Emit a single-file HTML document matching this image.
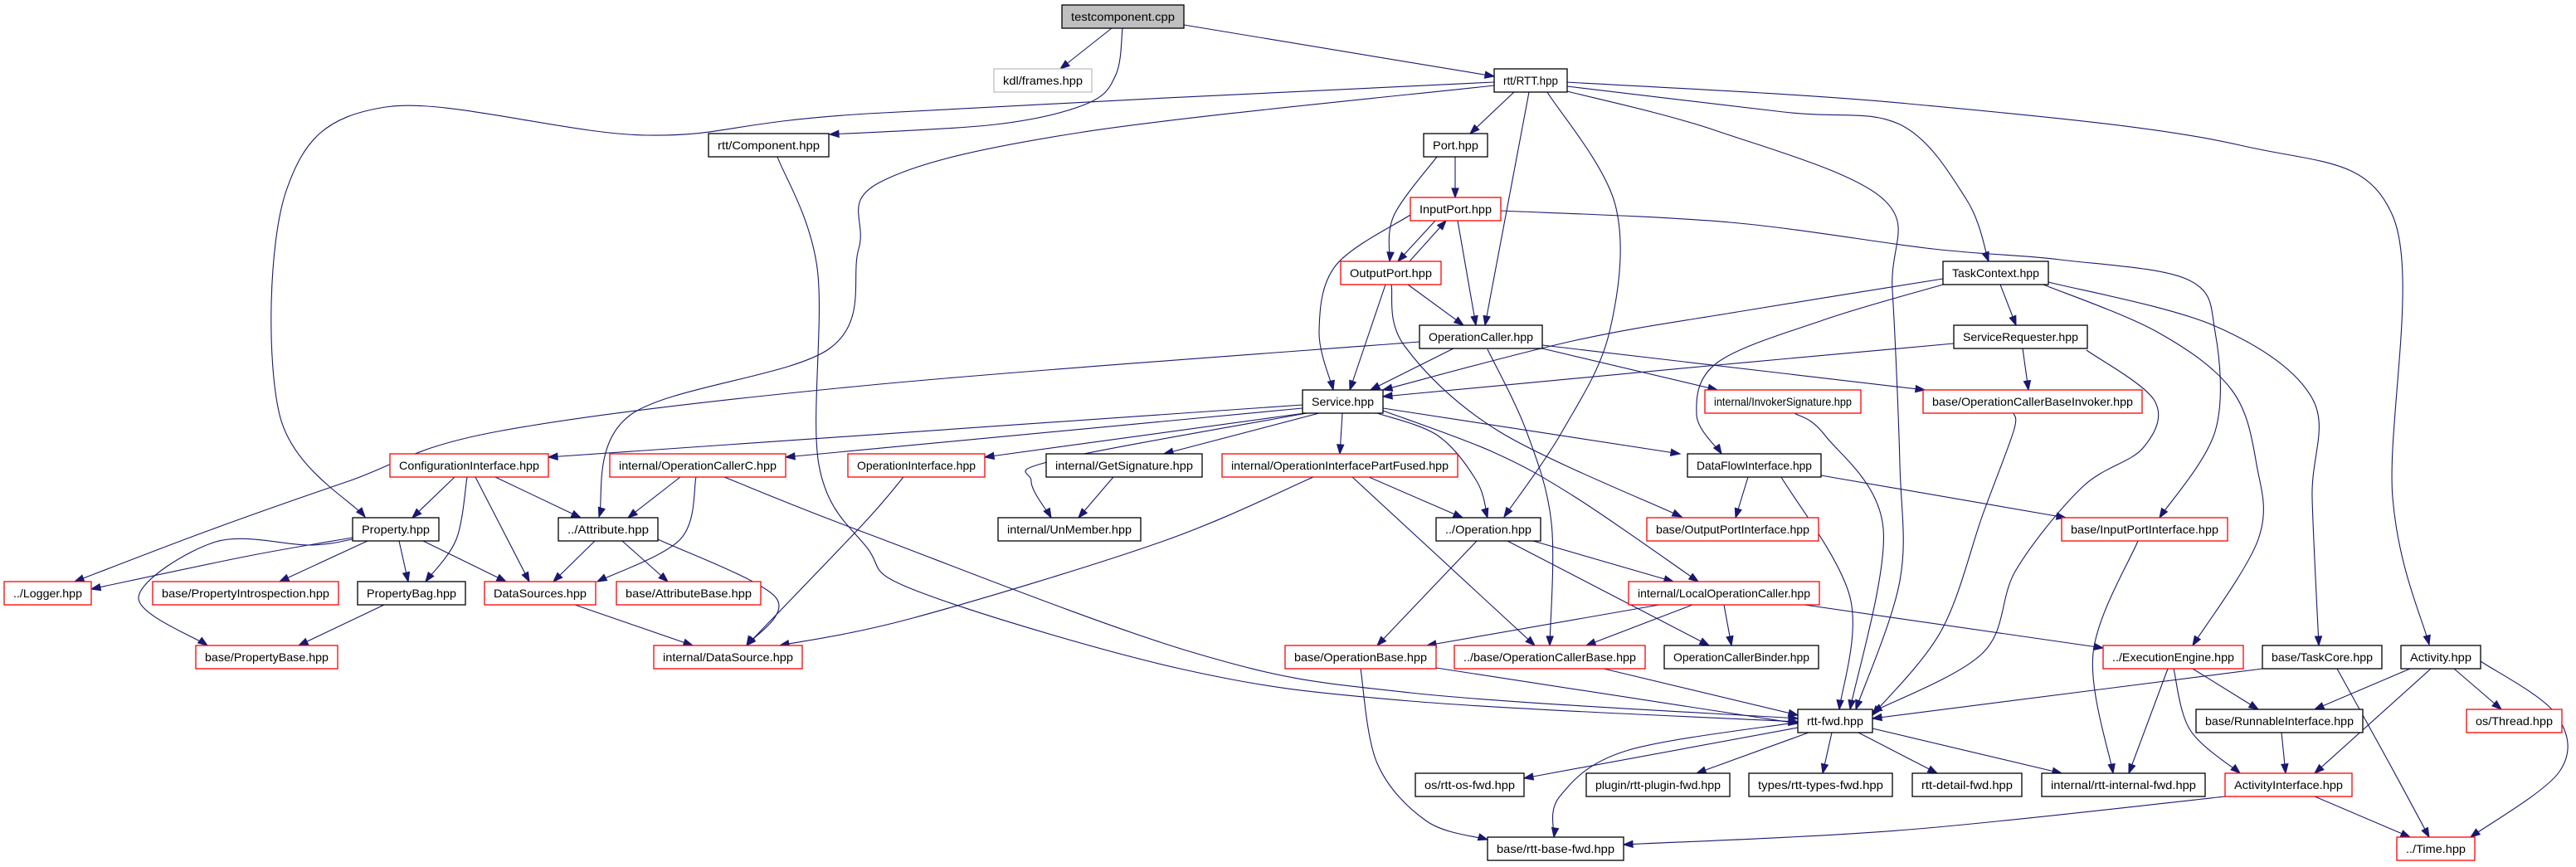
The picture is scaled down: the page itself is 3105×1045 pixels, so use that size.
<!DOCTYPE html>
<html><head><meta charset="utf-8">
<style>
html,body{margin:0;padding:0;background:#fff;}
svg{display:block;}
text{font-family:"Liberation Sans",sans-serif;font-size:14px;fill:#000;}
</style></head>
<body>
<svg id="g" width="3105" height="1045" viewBox="0 0 3105 1045" xmlns="http://www.w3.org/2000/svg">
<g id="edges" fill="none" stroke="#191970" stroke-width="1.1"></g>
<g id="nodes" stroke-width="1.3">
<rect x="1280" y="6" width="147" height="28" fill="#bfbfbf" stroke="#000"/><text x="1353.5" y="25" text-anchor="middle" textLength="125" lengthAdjust="spacingAndGlyphs">testcomponent.cpp</text>
<rect x="1198" y="83" width="118" height="28" fill="#fff" stroke="#bfbfbf"/><text x="1257" y="102" text-anchor="middle" textLength="96" lengthAdjust="spacingAndGlyphs">kdl/frames.hpp</text>
<rect x="1801" y="83" width="88" height="28" fill="#fff" stroke="#000"/><text x="1845" y="102" text-anchor="middle" textLength="66" lengthAdjust="spacingAndGlyphs">rtt/RTT.hpp</text>
<rect x="854" y="161" width="145" height="28" fill="#fff" stroke="#000"/><text x="926.5" y="180" text-anchor="middle" textLength="123" lengthAdjust="spacingAndGlyphs">rtt/Component.hpp</text>
<rect x="1716" y="161" width="77" height="28" fill="#fff" stroke="#000"/><text x="1754.5" y="180" text-anchor="middle" textLength="55" lengthAdjust="spacingAndGlyphs">Port.hpp</text>
<rect x="1700" y="238" width="109" height="28" fill="#fff" stroke="#f00"/><text x="1754.5" y="257" text-anchor="middle" textLength="87" lengthAdjust="spacingAndGlyphs">InputPort.hpp</text>
<rect x="1616" y="315" width="121" height="28" fill="#fff" stroke="#f00"/><text x="1676.5" y="334" text-anchor="middle" textLength="99" lengthAdjust="spacingAndGlyphs">OutputPort.hpp</text>
<rect x="2342" y="315" width="127" height="28" fill="#fff" stroke="#000"/><text x="2405.5" y="334" text-anchor="middle" textLength="105" lengthAdjust="spacingAndGlyphs">TaskContext.hpp</text>
<rect x="1711" y="392" width="148" height="28" fill="#fff" stroke="#000"/><text x="1785" y="411" text-anchor="middle" textLength="126" lengthAdjust="spacingAndGlyphs">OperationCaller.hpp</text>
<rect x="2355" y="392" width="161" height="28" fill="#fff" stroke="#000"/><text x="2435.5" y="411" text-anchor="middle" textLength="139" lengthAdjust="spacingAndGlyphs">ServiceRequester.hpp</text>
<rect x="1570" y="470" width="97" height="28" fill="#fff" stroke="#000"/><text x="1618.5" y="489" text-anchor="middle" textLength="75" lengthAdjust="spacingAndGlyphs">Service.hpp</text>
<rect x="2055" y="470" width="188" height="28" fill="#fff" stroke="#f00"/><text x="2149" y="489" text-anchor="middle" textLength="166" lengthAdjust="spacingAndGlyphs">internal/InvokerSignature.hpp</text>
<rect x="2318" y="470" width="264" height="28" fill="#fff" stroke="#f00"/><text x="2450" y="489" text-anchor="middle" textLength="242" lengthAdjust="spacingAndGlyphs">base/OperationCallerBaseInvoker.hpp</text>
<rect x="470" y="547" width="191" height="28" fill="#fff" stroke="#f00"/><text x="565.5" y="566" text-anchor="middle" textLength="169" lengthAdjust="spacingAndGlyphs">ConfigurationInterface.hpp</text>
<rect x="735" y="547" width="212" height="28" fill="#fff" stroke="#f00"/><text x="841" y="566" text-anchor="middle" textLength="190" lengthAdjust="spacingAndGlyphs">internal/OperationCallerC.hpp</text>
<rect x="1022" y="547" width="165" height="28" fill="#fff" stroke="#f00"/><text x="1104.5" y="566" text-anchor="middle" textLength="143" lengthAdjust="spacingAndGlyphs">OperationInterface.hpp</text>
<rect x="1261" y="547" width="188" height="28" fill="#fff" stroke="#000"/><text x="1355" y="566" text-anchor="middle" textLength="166" lengthAdjust="spacingAndGlyphs">internal/GetSignature.hpp</text>
<rect x="1473" y="547" width="284" height="28" fill="#fff" stroke="#f00"/><text x="1615" y="566" text-anchor="middle" textLength="262" lengthAdjust="spacingAndGlyphs">internal/OperationInterfacePartFused.hpp</text>
<rect x="2034" y="547" width="161" height="28" fill="#fff" stroke="#000"/><text x="2114.5" y="566" text-anchor="middle" textLength="139" lengthAdjust="spacingAndGlyphs">DataFlowInterface.hpp</text>
<rect x="425" y="624" width="104" height="28" fill="#fff" stroke="#000"/><text x="477" y="643" text-anchor="middle" textLength="82" lengthAdjust="spacingAndGlyphs">Property.hpp</text>
<rect x="673" y="624" width="120" height="28" fill="#fff" stroke="#000"/><text x="733" y="643" text-anchor="middle" textLength="98" lengthAdjust="spacingAndGlyphs">../Attribute.hpp</text>
<rect x="1203" y="624" width="172" height="28" fill="#fff" stroke="#000"/><text x="1289" y="643" text-anchor="middle" textLength="150" lengthAdjust="spacingAndGlyphs">internal/UnMember.hpp</text>
<rect x="1731" y="624" width="126" height="28" fill="#fff" stroke="#000"/><text x="1794" y="643" text-anchor="middle" textLength="104" lengthAdjust="spacingAndGlyphs">../Operation.hpp</text>
<rect x="1985" y="624" width="207" height="28" fill="#fff" stroke="#f00"/><text x="2088.5" y="643" text-anchor="middle" textLength="185" lengthAdjust="spacingAndGlyphs">base/OutputPortInterface.hpp</text>
<rect x="2485" y="624" width="200" height="28" fill="#fff" stroke="#f00"/><text x="2585" y="643" text-anchor="middle" textLength="178" lengthAdjust="spacingAndGlyphs">base/InputPortInterface.hpp</text>
<rect x="5" y="701" width="105" height="28" fill="#fff" stroke="#f00"/><text x="57.5" y="720" text-anchor="middle" textLength="83" lengthAdjust="spacingAndGlyphs">../Logger.hpp</text>
<rect x="184" y="701" width="224" height="28" fill="#fff" stroke="#f00"/><text x="296" y="720" text-anchor="middle" textLength="202" lengthAdjust="spacingAndGlyphs">base/PropertyIntrospection.hpp</text>
<rect x="431" y="701" width="130" height="28" fill="#fff" stroke="#000"/><text x="496" y="720" text-anchor="middle" textLength="108" lengthAdjust="spacingAndGlyphs">PropertyBag.hpp</text>
<rect x="584" y="701" width="134" height="28" fill="#fff" stroke="#f00"/><text x="651" y="720" text-anchor="middle" textLength="112" lengthAdjust="spacingAndGlyphs">DataSources.hpp</text>
<rect x="743" y="701" width="174" height="28" fill="#fff" stroke="#f00"/><text x="830" y="720" text-anchor="middle" textLength="152" lengthAdjust="spacingAndGlyphs">base/AttributeBase.hpp</text>
<rect x="1963" y="701" width="230" height="28" fill="#fff" stroke="#f00"/><text x="2078" y="720" text-anchor="middle" textLength="208" lengthAdjust="spacingAndGlyphs">internal/LocalOperationCaller.hpp</text>
<rect x="236" y="778" width="171" height="28" fill="#fff" stroke="#f00"/><text x="321.5" y="797" text-anchor="middle" textLength="149" lengthAdjust="spacingAndGlyphs">base/PropertyBase.hpp</text>
<rect x="788" y="778" width="179" height="28" fill="#fff" stroke="#f00"/><text x="877.5" y="797" text-anchor="middle" textLength="157" lengthAdjust="spacingAndGlyphs">internal/DataSource.hpp</text>
<rect x="1549" y="778" width="182" height="28" fill="#fff" stroke="#f00"/><text x="1640" y="797" text-anchor="middle" textLength="160" lengthAdjust="spacingAndGlyphs">base/OperationBase.hpp</text>
<rect x="1753" y="778" width="230" height="28" fill="#fff" stroke="#f00"/><text x="1868" y="797" text-anchor="middle" textLength="208" lengthAdjust="spacingAndGlyphs">../base/OperationCallerBase.hpp</text>
<rect x="2006" y="778" width="186" height="28" fill="#fff" stroke="#000"/><text x="2099" y="797" text-anchor="middle" textLength="164" lengthAdjust="spacingAndGlyphs">OperationCallerBinder.hpp</text>
<rect x="2535" y="778" width="169" height="28" fill="#fff" stroke="#f00"/><text x="2619.5" y="797" text-anchor="middle" textLength="147" lengthAdjust="spacingAndGlyphs">../ExecutionEngine.hpp</text>
<rect x="2727" y="778" width="144" height="28" fill="#fff" stroke="#000"/><text x="2799" y="797" text-anchor="middle" textLength="122" lengthAdjust="spacingAndGlyphs">base/TaskCore.hpp</text>
<rect x="2894" y="778" width="96" height="28" fill="#fff" stroke="#000"/><text x="2942" y="797" text-anchor="middle" textLength="74" lengthAdjust="spacingAndGlyphs">Activity.hpp</text>
<rect x="2167" y="855" width="90" height="28" fill="#fff" stroke="#000"/><text x="2212" y="874" text-anchor="middle" textLength="68" lengthAdjust="spacingAndGlyphs">rtt-fwd.hpp</text>
<rect x="2647" y="855" width="201" height="28" fill="#fff" stroke="#000"/><text x="2747.5" y="874" text-anchor="middle" textLength="179" lengthAdjust="spacingAndGlyphs">base/RunnableInterface.hpp</text>
<rect x="2973" y="855" width="115" height="28" fill="#fff" stroke="#f00"/><text x="3030.5" y="874" text-anchor="middle" textLength="93" lengthAdjust="spacingAndGlyphs">os/Thread.hpp</text>
<rect x="1706" y="932" width="131" height="28" fill="#fff" stroke="#000"/><text x="1771.5" y="951" text-anchor="middle" textLength="109" lengthAdjust="spacingAndGlyphs">os/rtt-os-fwd.hpp</text>
<rect x="1912" y="932" width="173" height="28" fill="#fff" stroke="#000"/><text x="1998.5" y="951" text-anchor="middle" textLength="151" lengthAdjust="spacingAndGlyphs">plugin/rtt-plugin-fwd.hpp</text>
<rect x="2108" y="932" width="173" height="28" fill="#fff" stroke="#000"/><text x="2194.5" y="951" text-anchor="middle" textLength="151" lengthAdjust="spacingAndGlyphs">types/rtt-types-fwd.hpp</text>
<rect x="2305" y="932" width="132" height="28" fill="#fff" stroke="#000"/><text x="2371" y="951" text-anchor="middle" textLength="110" lengthAdjust="spacingAndGlyphs">rtt-detail-fwd.hpp</text>
<rect x="2461" y="932" width="197" height="28" fill="#fff" stroke="#000"/><text x="2559.5" y="951" text-anchor="middle" textLength="175" lengthAdjust="spacingAndGlyphs">internal/rtt-internal-fwd.hpp</text>
<rect x="2682" y="932" width="153" height="28" fill="#fff" stroke="#f00"/><text x="2758.5" y="951" text-anchor="middle" textLength="131" lengthAdjust="spacingAndGlyphs">ActivityInterface.hpp</text>
<rect x="1793" y="1009" width="164" height="28" fill="#fff" stroke="#000"/><text x="1875" y="1028" text-anchor="middle" textLength="142" lengthAdjust="spacingAndGlyphs">base/rtt-base-fwd.hpp</text>
<rect x="2889" y="1009" width="94" height="28" fill="#fff" stroke="#f00"/><text x="2936" y="1028" text-anchor="middle" textLength="72" lengthAdjust="spacingAndGlyphs">../Time.hpp</text>
</g>
</svg>
<script>
var E=[
[[1340,34],[1278,83]],
[[1427,30],[1801,92]],
[[1353,34],[1345,90],[1310,125],[1200,150],[1000,162]],
[[1825,111],[1772,161]],
[[1843,111],[1790,392]],
[[1865,111],[1947,247],[1940,400],[1883,520],[1813,623]],
[[1889,104],[2150,135],[2290,150],[2370,240],[2397,315]],
[[1889,99],[2300,125],[2700,175],[2884,260],[2884,600],[2928,777]],
[[1889,110],[2070,158],[2270,240],[2281,350],[2290,560],[2290,700],[2237,855]],
[[1801,99],[1045,137],[780,163],[465,129],[345,230],[337,500],[440,623]],
[[1801,103],[1300,160],[1060,220],[1035,300],[1000,420],[760,500],[722,623]],
[[1754,189],[1754,238]],
[[1732,189],[1680,260],[1675,315]],
[[1730,266],[1685,315]],
[[1699,315],[1743,266]],
[[1757,266],[1779,392]],
[[1700,259],[1610,320],[1590,400],[1607,470]],
[[1697,343],[1764,392]],
[[1670,343],[1627,470]],
[[1677,343],[1693,417],[1807,520],[2027,623]],
[[1752,420],[1652,470]],
[[1711,412],[1040,465],[600,520],[420,580],[250,640],[90,701]],
[[1859,420],[2070,470]],
[[1859,416],[2320,470]],
[[1793,421],[1840,520],[1870,630],[1868,778]],
[[2342,336],[2100,375],[1900,410],[1667,470]],
[[2342,343],[2200,385],[2070,437],[2045,500],[2075,547]],
[[2411,343],[2430,392]],
[[2463,343],[2600,400],[2690,470],[2720,560],[2722,650],[2643,778]],
[[2469,340],[2670,393],[2787,480],[2787,600],[2795,778]],
[[2355,414],[2070,440],[1667,478]],
[[2438,420],[2445,470]],
[[2515,422],[2597,483],[2583,540],[2510,587],[2430,687],[2390,787],[2257,858]],
[[2163,498],[2200,525],[2270,637],[2230,855]],
[[2427,498],[2427,520],[2390,620],[2340,760],[2257,862]],
[[2107,575],[2092,624]],
[[2147,575],[2230,720],[2217,855]],
[[2195,573],[2490,624]],
[[1809,254],[2085,268],[2330,300],[2483,313],[2637,337],[2670,400],[2670,520],[2603,624]],
[[2577,652],[2523,787],[2547,932]],
[[2078,729],[2087,778]],
[[2175,729],[2535,781]],
[[2000,729],[1720,778]],
[[2040,729],[1912,778]],
[[1780,652],[1660,778]],
[[1848,652],[2017,701]],
[[1817,652],[2060,778]],
[[1650,575],[1763,624]],
[[1630,575],[1850,778]],
[[1583,575],[1400,653],[1100,745],[940,778]],
[[1089,575],[1040,632],[900,778]],
[[873,575],[1045,643],[1440,787],[1700,835],[2167,866]],
[[937,189],[985,323],[987,560],[1045,660],[1107,713],[1427,807],[1700,845],[2167,870]],
[[1731,805],[2167,872]],
[[1933,806],[2167,862]],
[[1640,806],[1660,920],[1720,990],[1793,1012]],
[[2170,870],[1960,905],[1880,960],[1873,1009]],
[[2167,877],[1837,938]],
[[2180,883],[2045,932]],
[[2208,883],[2197,932]],
[[2240,883],[2335,932]],
[[2257,878],[2485,932]],
[[2613,806],[2566,932]],
[[2643,806],[2722,855]],
[[2620,806],[2640,880],[2700,932]],
[[2727,806],[2257,866]],
[[2817,806],[2880,920],[2928,1009]],
[[2905,806],[2790,855]],
[[2930,806],[2790,932]],
[[2958,806],[3015,855]],
[[2990,797],[3080,860],[3085,930],[2978,1009]],
[[2750,883],[2755,932]],
[[2790,960],[2905,1009]],
[[2682,960],[2300,1000],[1957,1018]],
[[1570,488],[661,551]],
[[1570,492],[947,551]],
[[1580,497],[1187,551]],
[[1590,498],[1403,547]],
[[1575,498],[1270,555],[1243,580],[1267,624]],
[[1618,498],[1615,547]],
[[1660,498],[1733,525],[1780,580],[1793,624]],
[[1667,492],[2025,547]],
[[1667,495],[1800,545],[1900,600],[2047,701]],
[[548,575],[497,624]],
[[563,575],[550,650],[513,701]],
[[573,575],[638,701]],
[[597,575],[700,624]],
[[820,575],[757,624]],
[[839,575],[820,650],[720,701]],
[[425,648],[300,670],[110,710]],
[[425,650],[373,657],[260,653],[167,720],[250,778]],
[[443,652],[337,701]],
[[481,652],[492,701]],
[[510,652],[610,701]],
[[717,652],[667,701]],
[[750,652],[805,701]],
[[793,650],[935,720],[900,778]],
[[463,729],[360,778]],
[[693,729],[835,778]],
[[1342,575],[1300,624]]
];
var NS="http://www.w3.org/2000/svg",G=document.getElementById("edges"),S=document.getElementById("g");
function pathFor(p){
 var d="M"+p[0][0]+","+p[0][1];
 if(p.length==2){return d+" L"+p[1][0]+","+p[1][1];}
 for(var i=0;i<p.length-1;i++){
  var p0=p[i-1]||p[i],p1=p[i],p2=p[i+1],p3=p[i+2]||p2;
  var c1=[p1[0]+(p2[0]-p0[0])/6,p1[1]+(p2[1]-p0[1])/6];
  var c2=[p2[0]-(p3[0]-p1[0])/6,p2[1]-(p3[1]-p1[1])/6];
  d+=" C"+c1[0].toFixed(1)+","+c1[1].toFixed(1)+" "+c2[0].toFixed(1)+","+c2[1].toFixed(1)+" "+p2[0]+","+p2[1];
 }
 return d;
}
E.forEach(function(p){
 var n=p.length,t=p[n-1],s=p[n-2];
 var dx=t[0]-s[0],dy=t[1]-s[1],L=Math.sqrt(dx*dx+dy*dy)||1;dx/=L;dy/=L;
 var q=p.map(function(a){return a.slice();});
 var pa=document.createElementNS(NS,"path");pa.setAttribute("d",pathFor(q));G.appendChild(pa);
 var bx=t[0]-dx*11,by=t[1]-dy*11,px=-dy*4,py=dx*4;
 var poly=document.createElementNS(NS,"polygon");
 poly.setAttribute("points",t[0]+","+t[1]+" "+(bx+px)+","+(by+py)+" "+(bx-px)+","+(by-py));
 poly.setAttribute("fill","#191970");poly.setAttribute("stroke","#191970");
 G.appendChild(poly);
});
</script>
</body></html>
